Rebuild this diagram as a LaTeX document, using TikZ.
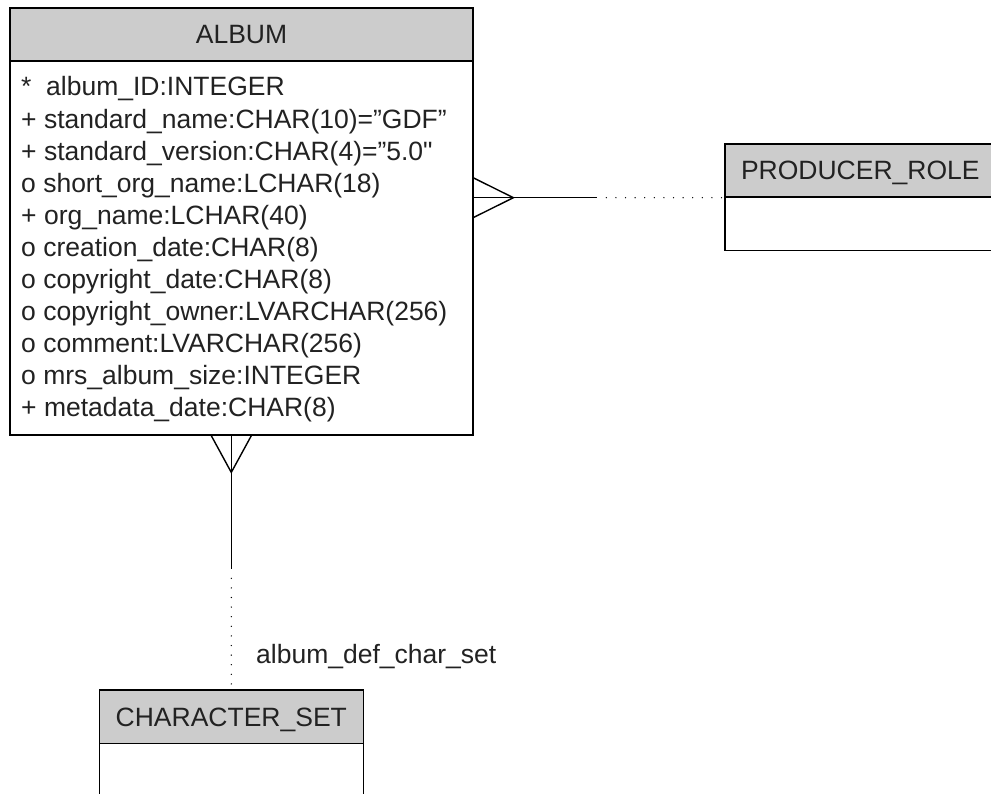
\documentclass[tikz,border=0pt]{standalone}
\usepackage{fontspec}
\setmainfont{Liberation Sans}[Ligatures=TeXOff]
\definecolor{hdrgray}{HTML}{CCCCCC}
\definecolor{ink}{HTML}{222222}
\begin{document}
\begin{tikzpicture}[x=1pt,y=-1pt,
  every node/.style={font=\fontsize{26.5}{32.1}\selectfont, text=ink},
  hdr/.style={draw=black, line width=1.4pt, fill=hdrgray, rectangle, inner sep=0pt,
    minimum height=53pt, text height=19pt, text depth=0pt},
  bodybox/.style={draw=black, line width=1.4pt, fill=white, rectangle, inner sep=0pt},
  rel/.style={draw=black, line width=1.4pt},
  reldot/.style={draw=black, line width=1.4pt, line cap=round, dash pattern=on 0pt off 9.6pt}
]
\useasboundingbox (0,0) rectangle (991,794);

% ALBUM
\node[hdr, minimum width=463pt] (albumH) at (241.5,34.5) {ALBUM};
\node[bodybox, minimum width=463pt, minimum height=374pt] (albumB) at (241.5,248) {};
\node[anchor=base west, inner sep=0pt] (albumA) at (21,96) {%
  \begin{tabular}[t]{@{}l@{}}
  *\ \ album\_ID:INTEGER\\
  + standard\_name:CHAR(10)=”GDF”\\
  + standard\_version:CHAR(4)=”5.0"\\
  o short\_org\_name:LCHAR(18)\\
  + org\_name:LCHAR(40)\\
  o creation\_date:CHAR(8)\\
  o copyright\_date:CHAR(8)\\
  o copyright\_owner:LVARCHAR(256)\\
  o comment:LVARCHAR(256)\\
  o mrs\_album\_size:INTEGER\\
  + metadata\_date:CHAR(8)
  \end{tabular}};

% PRODUCER_ROLE
\node[hdr, minimum width=270.5pt] (prodH) at (860.3,170.5) {PRODUCER\_ROLE};
\node[bodybox, minimum width=270.5pt, minimum height=53.5pt] (prodB) at (860.3,223.9) {};

% CHARACTER_SET
\node[hdr, minimum width=264pt, minimum height=53.3pt] (charH) at (231.3,716.7) {CHARACTER\_SET};
\node[bodybox, minimum width=264pt, minimum height=53pt] (charB) at (231.3,769.8) {};

% relationship ALBUM -- PRODUCER_ROLE
\coordinate (rA) at (albumB.east |- prodH.south);
\draw[rel] (rA) -- ++(39.7,0) coordinate (rF) -- ++(83.3,0) coordinate (rS);
\draw[rel] (rA) ++(0,-19.7) -- (rF) -- ++(-39.7,19.7);
\draw[reldot] (rS) ++(9.6,0) -- (prodH.south west);

% relationship ALBUM -- CHARACTER_SET
\coordinate (bA) at (charH.north |- albumB.south);
\draw[rel] (bA) -- ++(0,36.7) coordinate (bF) -- ++(0,96.3) coordinate (bS);
\draw[rel] (bA) ++(-20,0) -- (bF) -- ++(20,-36.7);
\draw[reldot] (bS) ++(0,9.6) -- (charH.north);
\node[anchor=base west, inner sep=0pt] (lbl) at (256,663) {album\_def\_char\_set};
\end{tikzpicture}
\end{document}
